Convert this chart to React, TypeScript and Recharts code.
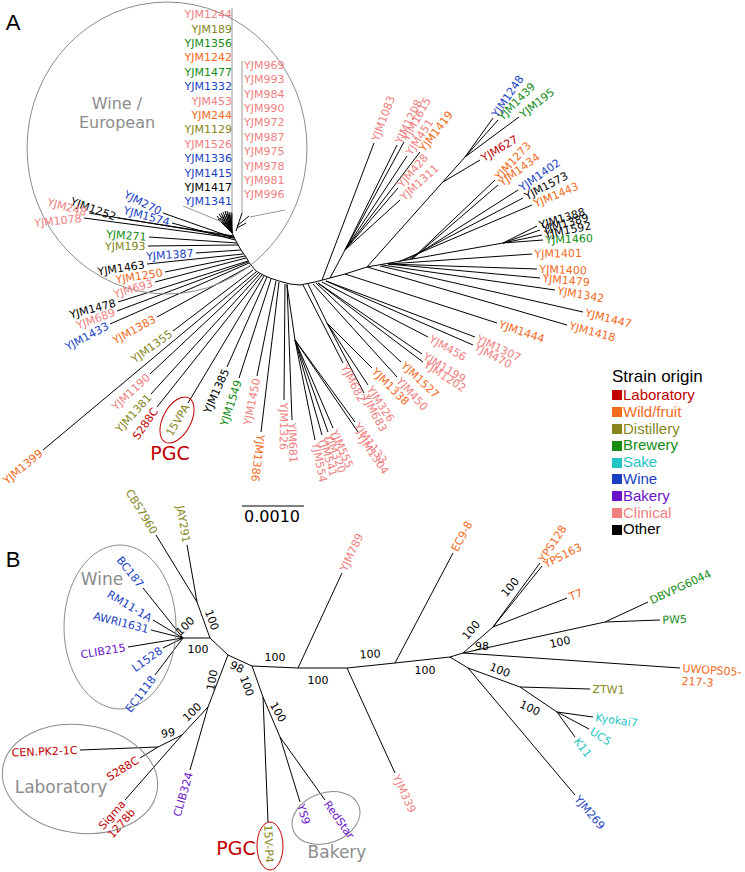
import React from 'react';
import { ScatterChart, Scatter, XAxis, YAxis, ReferenceLine } from 'recharts';

const W = 745;
const H = 872;

const colors: Record<string, string> = {
  lab: '#c00000',
  wild: '#f26a1b',
  dist: '#86861a',
  brew: '#148c14',
  sake: '#22c4c4',
  wine: '#1a3fc4',
  bake: '#6a12c8',
  clin: '#f08080',
  other: '#000000',
  gray: '#8c8c8c',
};

const origins = [
  ['lab', 'Laboratory'],
  ['wild', 'Wild/fruit'],
  ['dist', 'Distillery'],
  ['brew', 'Brewery'],
  ['sake', 'Sake'],
  ['wine', 'Wine'],
  ['bake', 'Bakery'],
  ['clin', 'Clinical'],
  ['other', 'Other'],
];

// panel A: [label, origin, baseX, baseY, tipX, tipY, labelAngle?]
const tipsA: any[] = [
  ['YJM1252', 'other', 234, 236, 118, 218, 20],
  ['YJM248', 'clin', 234, 237, 89, 213, 15],
  ['YJM1078', 'clin', 234, 238, 84, 218, -6],
  ['YJM270', 'wine', 234, 238, 163, 213, 27],
  ['YJM1574', 'wine', 235, 240, 172, 223],
  ['YJM271', 'brew', 237, 243, 149, 237],
  ['YJM193', 'dist', 238, 245, 148, 246],
  ['YJM1387', 'wine', 241, 250, 196, 253],
  ['YJM1463', 'other', 243, 254, 147, 264, -9],
  ['YJM1250', 'wild', 245, 256, 165, 272, -9],
  ['YJM693', 'clin', 246, 258, 155, 282, -17],
  ['YJM1478', 'other', 248, 261, 118, 302, -15],
  ['YJM689', 'clin', 248, 262, 117, 311, -20],
  ['YJM1433', 'wine', 249, 263, 110, 324, -28],
  ['YJM1383', 'wild', 250, 266, 157, 317, -29],
  ['YJM1355', 'dist', 253, 270, 173, 331, -36],
  ['YJM1399', 'wild', 256, 272, 43, 450],
  ['YJM1190', 'clin', 258, 273, 150, 374],
  ['YJM1381', 'dist', 260, 274, 151, 394],
  ['S288C', 'lab', 262, 275, 157, 407, -55],
  ['15VPA', 'dist', 264, 276, 188, 403, -59],
  ['YJM1385', 'other', 267, 277, 227, 367],
  ['YJM1549', 'brew', 271, 279, 239, 378],
  ['YJM1450', 'clin', 276, 281, 257, 376],
  ['YJM1386', 'wild', 279, 282, 261, 432, 97],
  ['YJM1326', 'clin', 285, 284, 284, 400],
  ['YJM681', 'clin', 287, 284, 292, 420],
  ['YJM554', 'clin', 295, 340, 315, 440],
  ['YJM541', 'clin', 295, 340, 322, 435],
  ['YJM320', 'clin', 295, 340, 328, 432],
  ['YJM555', 'clin', 295, 340, 333, 428],
  ['YJM1133', 'clin', 295, 340, 355, 422],
  ['YJM1304', 'clin', 295, 340, 358, 432],
  ['YJM682', 'clin', 303, 285, 343, 363],
  ['YJM683', 'clin', 327, 323, 364, 393],
  ['YJM326', 'clin', 327, 323, 368, 385],
  ['YJM1338', 'wild', 327, 323, 372, 368],
  ['YJM450', 'clin', 313, 284, 397, 377],
  ['YJM1527', 'wild', 316, 283, 401, 362],
  ['YJM1202', 'clin', 318, 283, 423, 362, 33],
  ['YJM1199', 'clin', 318, 283, 422, 354, 31],
  ['YJM456', 'clin', 322, 282, 428, 337, 29],
  ['YJM470', 'clin', 326, 281, 473, 345, 28],
  ['YJM1307', 'clin', 326, 281, 475, 337, 25],
  ['YJM1444', 'wild', 345, 274, 497, 323, 19],
  ['YJM1418', 'wild', 367, 267, 567, 325, 15],
  ['YJM1447', 'wild', 380, 266, 583, 312, 14],
  ['YJM1342', 'wild', 382, 265, 555, 290, 10],
  ['YJM1479', 'wild', 388, 264, 540, 278, 5],
  ['YJM1400', 'wild', 388, 264, 537, 269, 2],
  ['YJM1401', 'wild', 388, 264, 532, 254, -1],
  ['YJM1460', 'brew', 503, 243, 543, 240, -2],
  ['YJM1592', 'other', 503, 243, 542, 235, -11],
  ['YJM1389', 'other', 503, 243, 540, 230, -15],
  ['YJM1388', 'other', 503, 243, 537, 226, -17],
  ['YJM1443', 'wild', 398, 262, 532, 205],
  ['YJM1573', 'other', 405, 260, 523, 198],
  ['YJM1402', 'wine', 410, 259, 518, 190, -35],
  ['YJM1434', 'wild', 412, 259, 498, 185, -36],
  ['YJM1273', 'wild', 412, 259, 495, 180, -47],
  ['YJM627', 'lab', 443, 182, 480, 160],
  ['YJM195', 'brew', 465, 157, 519, 117, -38],
  ['YJM1439', 'brew', 465, 157, 498, 120, -45],
  ['YJM1248', 'wine', 465, 157, 493, 118, -56],
  ['YJM1083', 'clin', 322, 280, 374, 143],
  ['YJM1208', 'clin', 345, 250, 397, 145],
  ['YJM1615', 'clin', 345, 250, 404, 142],
  ['YJM451', 'clin', 345, 250, 407, 156],
  ['YJM1419', 'wild', 345, 250, 420, 152],
  ['YJM428', 'clin', 345, 250, 398, 188],
  ['YJM1311', 'clin', 345, 250, 400, 200],
];

// panel A internal branches
const backboneA = [
  [232, 233], [234, 237], [237, 243], [241, 250], [246, 257], [250, 264], [256, 271],
  [263, 275], [270, 278], [279, 281], [290, 284], [300, 285], [315, 282], [330, 278],
  [345, 274], [367, 267],
];
const edgesA = [
  [367, 267, 503, 243],
  [367, 267, 465, 157],
  [287, 285, 295, 340],
  [308, 284, 327, 323],
  [330, 278, 345, 250],
];
// Wine / European clade fan
const fanA = [
  [217, 216], [219, 214], [221, 213], [223, 212], [225, 211], [227, 211], [229, 212],
  [231, 212], [218, 219], [220, 218], [222, 216], [224, 215], [226, 214], [228, 214],
  [230, 215], [232, 213],
];
const pointersA = [
  [232, 8, 232, 213],
  [242, 61, 242, 213],
  [183, 206, 222, 222],
  [250, 217, 285, 210],
];
const vTickA = [
  [242, 213, 236, 231],
  [249, 216, 237, 226],
  [246, 223, 237, 228],
];

const wineLeft = [
  ['YJM1244', 'clin'], ['YJM189', 'dist'], ['YJM1356', 'brew'], ['YJM1242', 'wild'],
  ['YJM1477', 'brew'], ['YJM1332', 'wine'], ['YJM453', 'clin'], ['YJM244', 'wild'],
  ['YJM1129', 'dist'], ['YJM1526', 'clin'], ['YJM1336', 'wine'], ['YJM1415', 'wine'],
  ['YJM1417', 'other'], ['YJM1341', 'wine'],
];
const wineRight = [
  'YJM969', 'YJM993', 'YJM984', 'YJM990', 'YJM972',
  'YJM987', 'YJM975', 'YJM978', 'YJM981', 'YJM996',
];

// panel B nodes
const nodesB: Record<string, number[]> = {
  W: [183, 638], C: [210, 638], CJ: [197, 602], D: [228, 655], E: [252, 666],
  F: [208, 707], G: [182, 735], Hn: [158, 747], I: [263, 697], J: [280, 737],
  K: [298, 668], L: [347, 668], M: [395, 663], N: [450, 657], O: [463, 653],
  P: [493, 627], Q: [605, 622], R: [468, 668], S: [520, 687], T: [557, 712],
};
const edgesB = [
  ['W', 'C'], ['C', 'CJ'], ['C', 'D'], ['D', 'E'], ['D', 'F'], ['F', 'G'], ['G', 'Hn'],
  ['E', 'I'], ['I', 'J'], ['E', 'K'], ['K', 'L'], ['L', 'M'], ['M', 'N'], ['N', 'O'],
  ['O', 'P'], ['O', 'Q'], ['N', 'R'], ['R', 'S'], ['S', 'T'],
];
// [label, origin, parent, tipX, tipY, labelAngle?]
const tipsB: any[] = [
  ['BC187', 'wine', 'W', 143, 588],
  ['RM11-1A', 'wine', 'W', 153, 620],
  ['AWRI1631', 'wine', 'W', 151, 630],
  ['CLIB215', 'bake', 'W', 128, 647],
  ['L1528', 'wine', 'W', 163, 648, -35],
  ['EC1118', 'wine', 'W', 155, 675],
  ['CBS7960', 'dist', 'CJ', 156, 535],
  ['JAY291', 'dist', 'CJ', 187, 545],
  ['CLIB324', 'bake', 'F', 190, 770],
  ['CEN.PK2-1C', 'lab', 'Hn', 80, 750],
  ['S288C', 'lab', 'Hn', 140, 758],
  ['Sigma\n1278b', 'lab', 'G', 125, 800],
  ['15V-P4', 'dist', 'I', 268, 822],
  ['YS9', 'bake', 'J', 300, 802],
  ['RedStar', 'bake', 'J', 325, 800],
  ['YJM789', 'clin', 'K', 342, 573],
  ['YJM339', 'clin', 'L', 395, 773],
  ['EC9-8', 'wild', 'M', 453, 553],
  ['YPS128', 'wild', 'P', 540, 563, -57],
  ['YPS163', 'wild', 'P', 542, 566, -27],
  ['T7', 'wild', 'P', 567, 598],
  ['DBVPG6044', 'brew', 'Q', 648, 602],
  ['PW5', 'brew', 'Q', 660, 620],
  ['UWOPS05-\n217-3', 'wild', 'O', 680, 668],
  ['ZTW1', 'dist', 'S', 590, 689],
  ['Kyokai7', 'sake', 'T', 593, 717],
  ['UC5', 'sake', 'T', 589, 729, 33],
  ['K11', 'sake', 'T', 575, 737],
  ['YJM269', 'wine', 'R', 575, 795],
];

// bootstrap support: [value, x, y, angle]
const bootstrap: any[] = [
  ['100', 185, 626, -45], ['100', 212, 620, 70], ['100', 198, 649, 0], ['98', 237, 667, 25],
  ['100', 247, 686, 70], ['100', 212, 680, -80], ['100', 192, 712, -45], ['99', 168, 733, -10],
  ['100', 278, 712, 60], ['100', 275, 657, 0], ['100', 318, 680, 0], ['100', 370, 654, -3],
  ['100', 425, 670, 0], ['100', 471, 630, -50], ['100', 510, 587, -50], ['98', 482, 646, 0],
  ['100', 560, 642, -12], ['100', 500, 670, 22], ['100', 530, 708, 25],
];

// ellipses: [cx, cy, rx, ry, angle, colour]
const rings: any[] = [
  [167, 148, 140, 146, 0, 'gray'],
  [177, 420, 25, 14, -62, 'lab'],
  [120, 627, 56, 82, 0, 'gray'],
  [80, 779, 78, 54, 8, 'gray'],
  [326, 818, 35, 25, -20, 'gray'],
  [270, 846, 13, 24, 0, 'lab'],
];

// captions: [text, x, baseline, size, colour, family]
const captions: any[] = [
  ['Wine /', 117, 109, 16, 'gray', 'DejaVu Sans'],
  ['European', 117, 128, 16, 'gray', 'DejaVu Sans'],
  ['PGC', 170, 460, 19, 'lab', 'DejaVu Sans'],
  ['0.0010', 272, 522, 16, 'other', 'DejaVu Sans'],
  ['Wine', 102, 585, 17, 'gray', 'DejaVu Sans'],
  ['Laboratory', 61, 793, 17, 'gray', 'DejaVu Sans'],
  ['Bakery', 337, 858, 17, 'gray', 'DejaVu Sans'],
  ['PGC', 236, 855, 19, 'lab', 'DejaVu Sans'],
  ['A', 13, 30, 22, 'other', 'Liberation Sans'],
  ['B', 13, 567, 22, 'other', 'Liberation Sans'],
];

const scaleBar = [242, 506, 304, 506];

const tipData = [
  ...tipsA.map((t) => ({ x: t[4], y: t[5], bx: t[2], by: t[3], name: t[0], color: colors[t[1]], rot: t[6] })),
  ...tipsB.map((t) => ({ x: t[3], y: t[4], bx: nodesB[t[2]][0], by: nodesB[t[2]][1], name: t[0], color: colors[t[1]], rot: t[5] })),
];

const columnData = [
  ...wineLeft.map((w, i) => ({ x: 232, y: 14.4 + i * 14.4, name: w[0], color: colors[w[1]], anchor: 'end' })),
  ...wineRight.map((w, i) => ({ x: 244, y: 65 + i * 14.4, name: w, color: colors.clin, anchor: 'start' })),
];

const TipLabel = (p: any) => {
  const { cx, cy, payload } = p;
  const a = Math.atan2(payload.y - payload.by, payload.x - payload.bx);
  const flip = Math.cos(a) < -0.15;
  let rot = payload.rot !== undefined ? payload.rot : (a * 180) / Math.PI + (flip ? 180 : 0);
  if (rot > 180) rot -= 360;
  const out = ((rot + (flip ? 180 : 0)) * Math.PI) / 180;
  const gx = cx + 2.5 * Math.cos(out);
  const gy = cy + 2.5 * Math.sin(out);
  const lines = String(payload.name).split('\n');
  return (
    <text
      x={gx}
      y={gy}
      transform={`rotate(${rot} ${gx} ${gy})`}
      textAnchor={flip ? 'end' : 'start'}
      fontSize={11}
      fontFamily="DejaVu Sans"
      fill={payload.color}
    >
      {lines.map((l, i) => (
        <tspan key={i} x={gx} dy={i === 0 ? '0.35em' : '1.15em'}>
          {l}
        </tspan>
      ))}
    </text>
  );
};

const ColumnLabel = (p: any) => (
  <text x={p.cx} y={p.cy} dy="0.35em" textAnchor={p.payload.anchor} fontSize={11} fontFamily="DejaVu Sans" fill={p.payload.color}>
    {p.payload.name}
  </text>
);

const Bootstrap = (p: any) => (
  <text
    x={p.cx}
    y={p.cy}
    dy="0.35em"
    textAnchor="middle"
    transform={`rotate(${p.payload.rot} ${p.cx} ${p.cy})`}
    fontSize={11}
    fontFamily="DejaVu Sans"
    fill="#000"
  >
    {p.payload.v}
  </text>
);

const Ring = (p: any) => (
  <ellipse
    cx={p.cx}
    cy={p.cy}
    rx={p.payload.rx}
    ry={p.payload.ry}
    transform={`rotate(${p.payload.rot} ${p.cx} ${p.cy})`}
    fill="none"
    stroke={p.payload.color}
    strokeWidth={1}
  />
);

const Caption = (p: any) => (
  <text x={p.cx} y={p.cy} textAnchor="middle" fontSize={p.payload.size} fontFamily={p.payload.family} fill={p.payload.color}>
    {p.payload.text}
  </text>
);

const seg = (x1: number, y1: number, x2: number, y2: number, key: string, stroke = '#000', w = 1) => (
  <ReferenceLine
    key={key}
    segment={[{ x: x1, y: y1 }, { x: x2, y: y2 }]}
    stroke={stroke}
    strokeWidth={w}
    ifOverflow="visible"
  />
);

export default function App() {
  const lines: any[] = [];
  backboneA.slice(1).forEach((pt, i) => lines.push(seg(backboneA[i][0], backboneA[i][1], pt[0], pt[1], `bb${i}`)));
  edgesA.forEach((e, i) => lines.push(seg(e[0], e[1], e[2], e[3], `ea${i}`)));
  fanA.forEach((f, i) => lines.push(seg(232, 233, f[0], f[1], `fa${i}`)));
  pointersA.forEach((e, i) => lines.push(seg(e[0], e[1], e[2], e[3], `pa${i}`, '#999')));
  vTickA.forEach((e, i) => lines.push(seg(e[0], e[1], e[2], e[3], `va${i}`)));
  tipsA.forEach((t, i) => lines.push(seg(t[2], t[3], t[4], t[5], `ta${i}`)));
  edgesB.forEach((e, i) => lines.push(seg(nodesB[e[0]][0], nodesB[e[0]][1], nodesB[e[1]][0], nodesB[e[1]][1], `eb${i}`)));
  tipsB.forEach((t, i) => lines.push(seg(nodesB[t[2]][0], nodesB[t[2]][1], t[3], t[4], `tb${i}`)));
  lines.push(seg(scaleBar[0], scaleBar[1], scaleBar[2], scaleBar[3], 'scale', '#555', 1.6));

  return (
    <div style={{ position: 'absolute', left: 0, top: 0, width: W, height: H, background: '#fff' }}>
      <ScatterChart width={W} height={H} margin={{ top: 0, right: 0, bottom: 0, left: 0 }}>
        <XAxis type="number" dataKey="x" domain={[0, W]} allowDataOverflow hide />
        <YAxis type="number" dataKey="y" domain={[0, H]} allowDataOverflow reversed hide />
        {lines}
        <Scatter
          data={rings.map((r) => ({ x: r[0], y: r[1], rx: r[2], ry: r[3], rot: r[4], color: colors[r[5]] }))}
          shape={Ring}
          isAnimationActive={false}
        />
        <Scatter data={tipData} shape={TipLabel} isAnimationActive={false} />
        <Scatter data={columnData} shape={ColumnLabel} isAnimationActive={false} />
        <Scatter
          data={bootstrap.map((b) => ({ x: b[1], y: b[2], v: b[0], rot: b[3] }))}
          shape={Bootstrap}
          isAnimationActive={false}
        />
        <Scatter
          data={captions.map((c) => ({ x: c[1], y: c[2], text: c[0], size: c[3], color: colors[c[4]], family: c[5] }))}
          shape={Caption}
          isAnimationActive={false}
        />
      </ScatterChart>
      <div
        style={{
          position: 'absolute',
          left: 612,
          top: 367,
          fontFamily: '"Liberation Sans", Arial, sans-serif',
        }}
      >
        <div style={{ fontSize: 17, lineHeight: '20px', color: '#000' }}>Strain origin</div>
        {origins.map(([k, name]) => (
          <div
            key={k}
            style={{ fontSize: 15, lineHeight: '16.8px', color: colors[k], display: 'flex', alignItems: 'center' }}
          >
            <span style={{ display: 'inline-block', width: 10, height: 10, background: colors[k], marginRight: 1 }} />
            {name}
          </div>
        ))}
      </div>
    </div>
  );
}
